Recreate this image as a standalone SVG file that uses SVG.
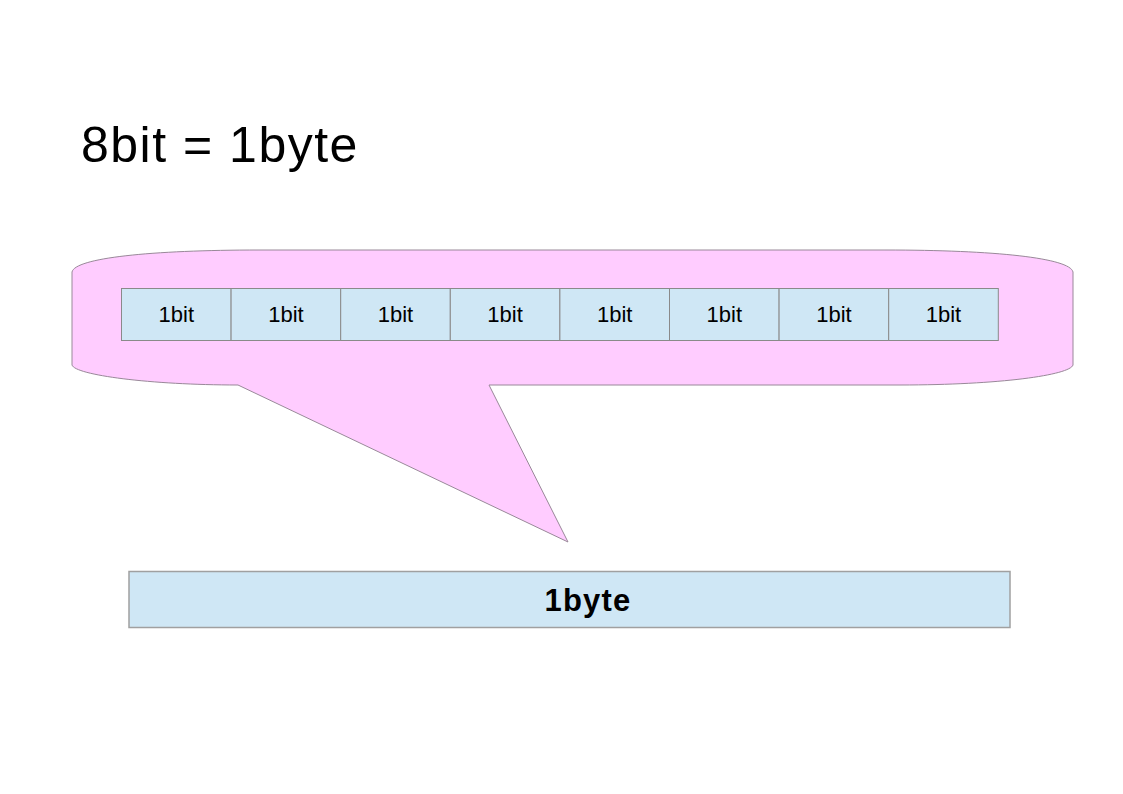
<svg xmlns="http://www.w3.org/2000/svg" width="1123" height="794" viewBox="0 0 1123 794">
<style>
.bit{fill:#cfe7f5;stroke:#8a8a8a;stroke-width:1}
.bt{font-family:"Liberation Sans",Arial,sans-serif;font-size:22px;fill:#000;text-anchor:middle}
</style>
<rect width="1123" height="794" fill="#fff"/>
<text x="81" y="162" font-family="Liberation Sans, Arial, sans-serif" font-size="50" letter-spacing="1.5" fill="#000">8bit = 1byte</text>
<g id="callout">
<path d="M72,272 C75,258 150,250 260,250 L885,250 C995,250 1070,258 1073,272 L1073,365 C1070,375 1000,385 900,385 L489,385 L568,542 L238,385 C150,385 75,375 72,365 Z" fill="#ffccff" stroke="#998899" stroke-width="1"/>
</g>
<g id="bits">
<g id="bit1"><rect class="bit" x="121.5" y="288.5" width="109.6" height="52"/><text class="bt" x="176.3" y="322">1bit</text></g>
<g id="bit2"><rect class="bit" x="231.1" y="288.5" width="109.6" height="52"/><text class="bt" x="285.9" y="322">1bit</text></g>
<g id="bit3"><rect class="bit" x="340.7" y="288.5" width="109.6" height="52"/><text class="bt" x="395.5" y="322">1bit</text></g>
<g id="bit4"><rect class="bit" x="450.3" y="288.5" width="109.6" height="52"/><text class="bt" x="505.1" y="322">1bit</text></g>
<g id="bit5"><rect class="bit" x="559.9" y="288.5" width="109.6" height="52"/><text class="bt" x="614.7" y="322">1bit</text></g>
<g id="bit6"><rect class="bit" x="669.5" y="288.5" width="109.6" height="52"/><text class="bt" x="724.3" y="322">1bit</text></g>
<g id="bit7"><rect class="bit" x="779.1" y="288.5" width="109.6" height="52"/><text class="bt" x="833.9" y="322">1bit</text></g>
<g id="bit8"><rect class="bit" x="888.7" y="288.5" width="109.6" height="52"/><text class="bt" x="943.5" y="322">1bit</text></g>
</g>
<g id="byte">
<rect x="129" y="571.5" width="881" height="56" fill="#cfe7f5" stroke="#a0a0a0" stroke-width="1.5"/>
<text x="588" y="611" font-family="Liberation Sans, Arial, sans-serif" font-size="31" font-weight="bold" letter-spacing="1.2" text-anchor="middle" fill="#000">1byte</text>
</g>
<g id="connectors"/>
</svg>
